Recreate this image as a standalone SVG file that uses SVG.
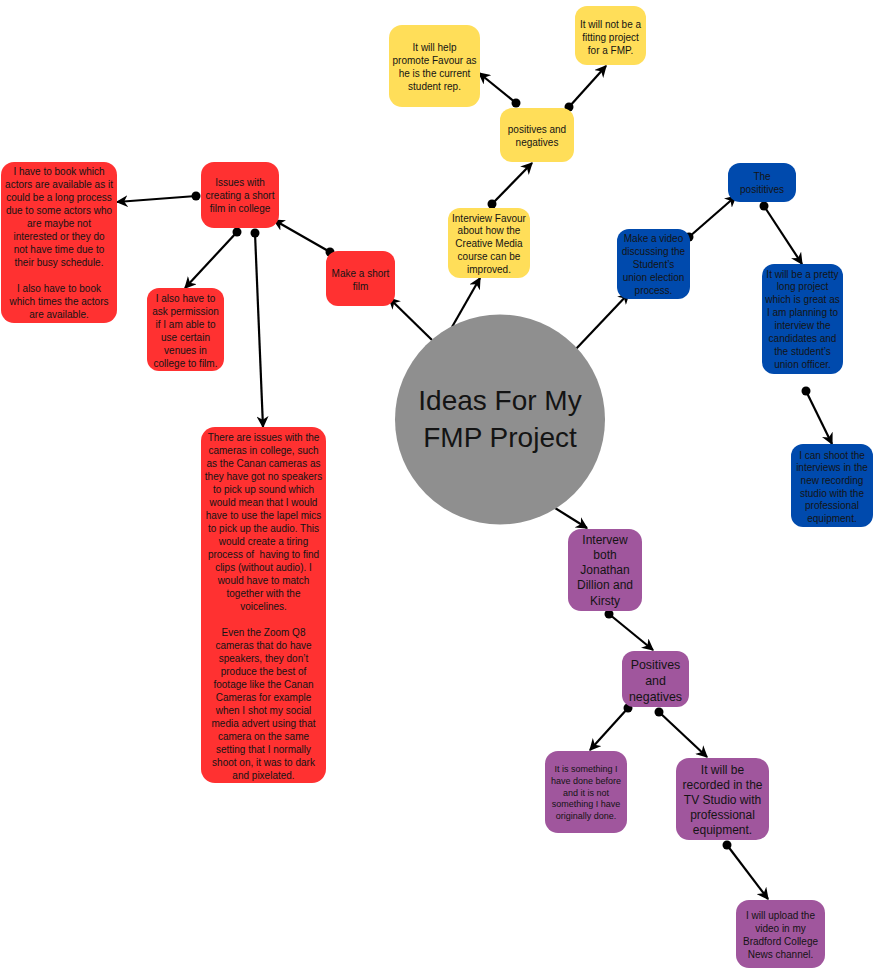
<svg xmlns="http://www.w3.org/2000/svg" width="880" height="970" viewBox="0 0 880 970">
<style>
.y{fill:#ffde59}.r{fill:#ff3131}.b{fill:#004aad}.p{fill:#a0569d}
text{font-family:"Liberation Sans",Arial,sans-serif;fill:#141414;text-anchor:middle;font-size:10px}
.m{font-size:12px}.s{font-size:9px}
.c line{stroke:#000;stroke-width:2.2;marker-end:url(#ah)}
.c circle{fill:#000}
</style>
<defs>
<marker id="ah" markerUnits="userSpaceOnUse" markerWidth="12" markerHeight="12" viewBox="0 0 10 10" refX="9" refY="5" orient="auto">
<path d="M0,0 L10,5 L0,10 L3,5 z" fill="#000"/>
</marker>
</defs>
<rect width="880" height="970" fill="#fff"/>

<g class="c" id="connectors">
<line x1="432" y1="340" x2="389" y2="298"/>
<line x1="452" y1="327" x2="480" y2="278"/>
<line x1="575" y1="350" x2="629" y2="293"/>
<line x1="547" y1="503" x2="587" y2="528"/>
<line x1="492" y1="204" x2="532" y2="163"/>
<circle cx="492" cy="204" r="4.5"/>
<line x1="516" y1="103" x2="479" y2="73"/>
<circle cx="516" cy="103" r="4.5"/>
<line x1="569" y1="107" x2="606" y2="66"/>
<circle cx="569" cy="107" r="4.5"/>
<line x1="330" y1="252" x2="274" y2="220"/>
<circle cx="330" cy="252" r="4.5"/>
<line x1="196" y1="196" x2="117" y2="202"/>
<circle cx="196" cy="196" r="4.5"/>
<line x1="237" y1="232" x2="185" y2="288"/>
<circle cx="237" cy="232" r="4.5"/>
<line x1="255" y1="233" x2="263" y2="427"/>
<circle cx="255" cy="233" r="4.5"/>
<line x1="689" y1="237" x2="736" y2="196"/>
<circle cx="689" cy="237" r="4.5"/>
<line x1="764" y1="206" x2="802" y2="264"/>
<circle cx="764" cy="206" r="4.5"/>
<line x1="806" y1="391" x2="832" y2="444"/>
<circle cx="806" cy="391" r="4.5"/>
<line x1="609" y1="614" x2="653" y2="650"/>
<circle cx="609" cy="614" r="4.5"/>
<line x1="628" y1="708" x2="590" y2="750"/>
<circle cx="628" cy="708" r="4.5"/>
<line x1="659" y1="712" x2="707" y2="757"/>
<circle cx="659" cy="712" r="4.5"/>
<line x1="727" y1="845" x2="768" y2="899"/>
<circle cx="727" cy="845" r="4.5"/>
</g>

<g id="center">
<circle cx="500" cy="419.5" r="105" fill="#8f8f8f"/>
<text x="500" y="410" style="font-size:28px">Ideas For My</text>
<text x="500" y="447" style="font-size:28px">FMP Project</text>
</g>

<g id="y-help">
<rect class="y" x="389" y="25" width="91" height="82" rx="13"/>
<text x="434.5" y="50.5"><tspan x="434.5">It will help</tspan><tspan x="434.5" dy="13">promote Favour as</tspan><tspan x="434.5" dy="13">he is the current</tspan><tspan x="434.5" dy="13">student rep.</tspan></text>
</g>
<g id="y-notfit">
<rect class="y" x="575" y="6" width="71" height="59" rx="12"/>
<text x="610.5" y="27.5"><tspan x="610.5">It will not be a</tspan><tspan x="610.5" dy="13">fitting project</tspan><tspan x="610.5" dy="13">for a FMP.</tspan></text>
</g>
<g id="y-posneg">
<rect class="y" x="500" y="108" width="74" height="54" rx="12"/>
<text x="537" y="132.5"><tspan x="537">positives and</tspan><tspan x="537" dy="13">negatives</tspan></text>
</g>
<g id="y-interview">
<rect class="y" x="448" y="208" width="82" height="70" rx="12"/>
<text x="489" y="221.5"><tspan x="489">Interview Favour</tspan><tspan x="489" dy="12.8">about how the</tspan><tspan x="489" dy="12.8">Creative Media</tspan><tspan x="489" dy="12.8">course can be</tspan><tspan x="489" dy="12.8">improved.</tspan></text>
</g>

<g id="r-short">
<rect class="r" x="326" y="251" width="69" height="55" rx="12"/>
<text x="360.5" y="277"><tspan x="360.5">Make a short</tspan><tspan x="360.5" dy="12.5">film</tspan></text>
</g>
<g id="r-issues">
<rect class="r" x="201" y="162" width="78" height="66" rx="13"/>
<text x="240" y="186"><tspan x="240">Issues with</tspan><tspan x="240" dy="13">creating a short</tspan><tspan x="240" dy="13">film in college</tspan></text>
</g>
<g id="r-actors">
<rect class="r" x="1" y="162" width="116" height="161" rx="13"/>
<text x="59" y="175"><tspan x="59">I have to book which</tspan><tspan x="59" dy="13">actors are available as it</tspan><tspan x="59" dy="13">could be a long process</tspan><tspan x="59" dy="13">due to some actors who</tspan><tspan x="59" dy="13">are maybe not</tspan><tspan x="59" dy="13">interested or they do</tspan><tspan x="59" dy="13">not have time due to</tspan><tspan x="59" dy="13">their busy schedule.</tspan><tspan x="59" dy="26">I also have to book</tspan><tspan x="59" dy="13">which times the actors</tspan><tspan x="59" dy="13">are available.</tspan></text>
</g>
<g id="r-permission">
<rect class="r" x="147" y="288" width="77" height="83" rx="12"/>
<text x="185.5" y="302"><tspan x="185.5">I also have to</tspan><tspan x="185.5" dy="13">ask permission</tspan><tspan x="185.5" dy="13">if I am able to</tspan><tspan x="185.5" dy="13">use certain</tspan><tspan x="185.5" dy="13">venues in</tspan><tspan x="185.5" dy="13">college to film.</tspan></text>
</g>
<g id="r-cameras">
<rect class="r" x="201" y="427" width="125" height="356" rx="14"/>
<text x="263.5" y="441"><tspan x="263.5">There are issues with the</tspan><tspan x="263.5" dy="13">cameras in college, such</tspan><tspan x="263.5" dy="13">as the Canan cameras as</tspan><tspan x="263.5" dy="13">they have got no speakers</tspan><tspan x="263.5" dy="13">to pick up sound which</tspan><tspan x="263.5" dy="13">would mean that I would</tspan><tspan x="263.5" dy="13">have to use the lapel mics</tspan><tspan x="263.5" dy="13">to pick up the audio. This</tspan><tspan x="263.5" dy="13">would create a tiring</tspan><tspan x="263.5" dy="13">process of &#160;having to find</tspan><tspan x="263.5" dy="13">clips (without audio). I</tspan><tspan x="263.5" dy="13">would have to match</tspan><tspan x="263.5" dy="13">together with the</tspan><tspan x="263.5" dy="13">voicelines.</tspan><tspan x="263.5" dy="26">Even the Zoom Q8</tspan><tspan x="263.5" dy="13">cameras that do have</tspan><tspan x="263.5" dy="13">speakers, they don’t</tspan><tspan x="263.5" dy="13">produce the best of</tspan><tspan x="263.5" dy="13">footage like the Canan</tspan><tspan x="263.5" dy="13">Cameras for example</tspan><tspan x="263.5" dy="13">when I shot my social</tspan><tspan x="263.5" dy="13">media advert using that</tspan><tspan x="263.5" dy="13">camera on the same</tspan><tspan x="263.5" dy="13">setting that I normally</tspan><tspan x="263.5" dy="13">shoot on, it was to dark</tspan><tspan x="263.5" dy="13">and pixelated.</tspan></text>
</g>

<g id="b-video">
<rect class="b" x="617" y="229" width="73" height="70" rx="12"/>
<text x="653.5" y="242"><tspan x="653.5">Make a video</tspan><tspan x="653.5" dy="13.1">discussing the</tspan><tspan x="653.5" dy="13.1">Student’s</tspan><tspan x="653.5" dy="13.1">union election</tspan><tspan x="653.5" dy="13.1">process.</tspan></text>
</g>
<g id="b-positives">
<rect class="b" x="728" y="163" width="68" height="39" rx="12"/>
<text x="762" y="180"><tspan x="762">The</tspan><tspan x="762" dy="13.3">posititives</tspan></text>
</g>
<g id="b-long">
<rect class="b" x="762" y="264" width="81" height="110" rx="12"/>
<text x="802.5" y="277.5"><tspan x="802.5">It will be a pretty</tspan><tspan x="802.5" dy="12.9">long project</tspan><tspan x="802.5" dy="12.9">which is great as</tspan><tspan x="802.5" dy="12.9">I am planning to</tspan><tspan x="802.5" dy="12.9">interview the</tspan><tspan x="802.5" dy="12.9">candidates and</tspan><tspan x="802.5" dy="12.9">the student’s</tspan><tspan x="802.5" dy="12.9">union officer.</tspan></text>
</g>
<g id="b-shoot">
<rect class="b" x="791" y="444" width="82" height="83" rx="12"/>
<text x="832" y="458.5"><tspan x="832">I can shoot the</tspan><tspan x="832" dy="12.7">interviews in the</tspan><tspan x="832" dy="12.7">new recording</tspan><tspan x="832" dy="12.7">studio with the</tspan><tspan x="832" dy="12.7">professional</tspan><tspan x="832" dy="12.7">equipment.</tspan></text>
</g>

<g id="p-interview">
<rect class="p" x="568" y="529" width="74" height="82" rx="13"/>
<text class="m" x="605" y="543.5"><tspan x="605">Intervew</tspan><tspan x="605" dy="15.3">both</tspan><tspan x="605" dy="15.3">Jonathan</tspan><tspan x="605" dy="15.3">Dillion and</tspan><tspan x="605" dy="15.3">Kirsty</tspan></text>
</g>
<g id="p-posneg">
<rect class="p" x="622" y="651" width="67" height="56" rx="12"/>
<text class="m" x="655.5" y="668.5" style="font-size:12.4px"><tspan x="655.5">Positives</tspan><tspan x="655.5" dy="16">and</tspan><tspan x="655.5" dy="16">negatives</tspan></text>
</g>
<g id="p-done">
<rect class="p" x="545" y="751" width="82" height="82" rx="13"/>
<text class="s" x="586" y="772"><tspan x="586">It is something I</tspan><tspan x="586" dy="11.8">have done before</tspan><tspan x="586" dy="11.8">and it is not</tspan><tspan x="586" dy="11.8">something I have</tspan><tspan x="586" dy="11.8">originally done.</tspan></text>
</g>
<g id="p-tv">
<rect class="p" x="676" y="758" width="93" height="82" rx="13"/>
<text class="m" x="722.5" y="773.5"><tspan x="722.5">It will be</tspan><tspan x="722.5" dy="15.2">recorded in the</tspan><tspan x="722.5" dy="15.2">TV Studio with</tspan><tspan x="722.5" dy="15.2">professional</tspan><tspan x="722.5" dy="15.2">equipment.</tspan></text>
</g>
<g id="p-upload">
<rect class="p" x="736" y="900" width="89" height="68" rx="13"/>
<text x="780.5" y="918.5"><tspan x="780.5">I will upload the</tspan><tspan x="780.5" dy="13">video in my</tspan><tspan x="780.5" dy="13">Bradford College</tspan><tspan x="780.5" dy="13">News channel.</tspan></text>
</g>
</svg>
